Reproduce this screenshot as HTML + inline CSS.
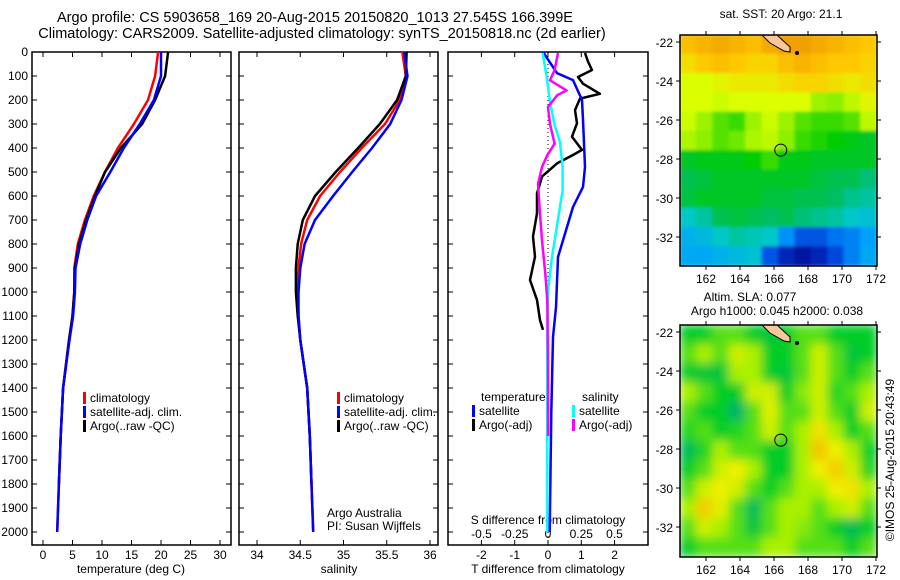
<!DOCTYPE html>
<html><head><meta charset="utf-8"><style>
body{margin:0;background:#fff;}
svg{display:block;font-family:"Liberation Sans",sans-serif;}
</style></head><body>
<svg id="fig" width="900" height="580" viewBox="0 0 900 580">
<text x="315" y="22" font-size="14.5" text-anchor="middle">Argo profile: CS 5903658_169 20-Aug-2015 20150820_1013 27.545S 166.399E</text>
<text x="322" y="38" font-size="14.5" text-anchor="middle">Climatology: CARS2009. Satellite-adjusted climatology: synTS_20150818.nc (2d earlier)</text>
<text x="131" y="573" font-size="12" text-anchor="middle">temperature (deg C)</text>
<text x="339" y="573" font-size="12" text-anchor="middle">salinity</text>
<text x="548" y="573" font-size="12" text-anchor="middle">T difference from climatology</text>
<text x="548" y="524" font-size="12" text-anchor="middle">S difference from climatology</text>
<text x="327" y="517" font-size="12">Argo Australia</text>
<text x="327" y="530" font-size="12">PI: Susan Wijffels</text>
<text x="781" y="18" font-size="12" text-anchor="middle">sat. SST: 20 Argo: 21.1</text>
<text x="750" y="301" font-size="12" text-anchor="middle">Altim. SLA: 0.077</text>
<text x="777" y="315" font-size="12" text-anchor="middle">Argo h1000: 0.045 h2000: 0.038</text>
<text x="0" y="0" font-size="12" text-anchor="middle" transform="translate(894,460) rotate(-90)">©IMOS 25-Aug-2015 20:43:49</text>
<g id="plots"></g>
</svg>
<script>
// depth levels (m)
const depths = [0,100,200,300,400,500,600,700,800,900,1000,1100,1200,1400,1600,1800,2000];
const tempClim = [19.5,19.0,17.8,15.4,12.7,10.5,8.6,7.1,5.9,5.3,5.3,5.0,4.4,3.4,3.0,2.7,2.4];
const tempSat  = [20.0,20.0,18.8,16.4,13.7,11.4,9.0,7.5,6.3,5.5,5.4,5.1,4.5,3.4,3.0,2.7,2.4];
const tempArgo = [21.2,20.7,19.0,16.8,13.2,10.5,8.8,7.3,6.1,5.4,5.3,5.0,4.4,3.4,3.0,2.7];
const salClim = [35.68,35.72,35.65,35.48,35.21,34.96,34.73,34.58,34.51,34.48,34.47,34.48,34.50,34.58,34.61,34.63,34.65];
const salSat  = [35.70,35.74,35.67,35.54,35.33,35.10,34.88,34.67,34.55,34.50,34.48,34.48,34.50,34.58,34.61,34.63,34.65];
const salArgo = [35.73,35.72,35.62,35.42,35.17,34.91,34.67,34.53,34.47,34.45,34.45,34.47,34.50,34.58,34.61,34.63];
// difference profiles
const dTSatDepth = [0,88,117,200,283,479,562,646,729,854,1063,1188,1500,2000];
const dTSat = [-0.15,0.27,0.75,1.02,1.05,1.11,1.05,0.75,0.57,0.3,0.24,0.15,0.1,0.05];
const dTArgoDepth = [4,40,75,104,132,174,194,242,297,353,408,429,464,519,589,672,769,853,950,1033,1117,1158];
const dTArgo = [1.11,1.2,1.32,0.9,1.05,1.56,0.96,0.81,0.87,0.72,1.02,0.75,0.27,-0.18,-0.33,-0.33,-0.45,-0.39,-0.54,-0.33,-0.24,-0.15];
const dSArgoDepth = [4,75,118,160,180,229,300,382,430,479,549,674,785,924,1035,1300,1600];
const dSArgo = [0.075,0.05,0.015,0.14,0.07,0,0.015,0.05,-0.005,-0.045,-0.075,-0.06,-0.045,-0.02,-0.005,0,0];
const dSSatDepth = [4,104,208,305,375,479,576,715,854,993,1200,1600,2000];
const dSSat = [-0.04,-0.01,0.015,0.05,0.09,0.11,0.11,0.07,0.03,0.0,-0.005,-0.005,-0.005];
// map data
const sstGrid = [
[21.6,21.7,21.8,21.7,21.6,21.8,21.9,21.9,21.8,21.7,21.6,21.5],
[21.3,21.5,21.6,21.5,21.4,21.4,21.6,21.7,21.6,21.5,21.5,21.4],
[21.0,21.0,21.1,21.2,21.2,21.2,21.3,21.4,21.4,21.3,21.2,21.3],
[21.0,21.0,20.9,21.0,21.0,21.0,21.0,21.0,20.6,20.5,20.8,21.1],
[20.9,20.6,20.3,20.2,20.6,20.9,20.6,20.3,20.2,20.2,20.3,20.8],
[20.7,20.5,20.3,20.4,20.7,20.8,20.5,20.2,20.1,20.0,19.9,19.8],
[19.8,19.9,19.9,19.9,20.0,20.2,19.9,19.9,19.8,19.8,19.8,19.8],
[19.6,19.7,19.8,19.8,19.8,19.8,19.8,19.8,19.7,19.6,19.6,19.4],
[19.7,19.8,19.8,19.8,19.8,19.7,19.7,19.6,19.6,19.5,19.3,19.2],
[19.0,19.2,19.6,19.7,19.6,19.5,19.6,19.4,19.3,19.2,19.0,18.9],
[18.7,18.8,19.0,19.2,19.1,19.0,18.4,18.0,18.0,18.2,18.3,18.5],
[18.6,18.6,18.7,18.8,18.9,18.0,17.6,17.4,17.6,17.9,18.3,18.6]];
const slaGrid = [
[1,1,1.5,1.5,1,0.8,1,1.5,1.5,1,1,1],
[1.5,2,1.5,2.5,2,1,1,1.5,2.5,1.5,0.8,1],
[1,0.8,0.8,2,2,1,0.8,1.5,2.5,1.5,1,1.5],
[2,1.5,1,1,2.5,2.5,1,1.8,2.5,1.2,1.5,2],
[1.5,1,1,0.3,1.5,2.8,1.5,1.5,2.5,1.5,1,2.5],
[1.2,1.5,1,1.2,1.5,2.5,1.5,2,3.2,2,1,1.5],
[0.5,1.2,2,1.5,1.5,1,1,2,3.6,3,2,1],
[1,1.5,2.5,3,2,1,1,2,3,3.5,2.5,1.2],
[1.5,2.5,3,2.5,1.5,1,1.5,2,2,3,3.2,2],
[2,3.5,2.8,1.5,0.5,1.5,2,2,1.5,2,2.5,1.5],
[1.5,2.5,2,1.5,0.8,1.5,2,1.8,1.5,1,0.5,1],
[1,1.5,1.5,1.5,1.5,2,2,1.5,1.5,1.5,1,1.5]];
const depthTicks = [0,100,200,300,400,500,600,700,800,900,1000,1100,1200,1300,1400,1500,1600,1700,1800,1900,2000];
const tempTicks = [0,5,10,15,20,25,30];
const salTicks = [34,34.5,35,35.5,36];
const salTickLabels = ["34","34.5","35","35.5","36"];
const tdTicks = [-2,-1,0,1,2];
const sdTicks = [-0.5,-0.25,0,0.25,0.5];
const sdTickLabels = ["-0.5","-0.25","0","0.25","0.5"];
const lonTicks = [162,164,166,168,170,172];
const latTicks = [-22,-24,-26,-28,-30,-32];
const argoLon = 166.399, argoLat = -27.545;

const NS="http://www.w3.org/2000/svg";
const G=document.getElementById('plots');
function mk(tag,attrs,parent){const e=document.createElementNS(NS,tag);for(const k in attrs)e.setAttribute(k,attrs[k]);(parent||G).appendChild(e);return e;}
const yD=d=>52+d*0.24;
const xT=t=>43+t*5.9;
const xS=s=>257+(s-34)*86.5;
const xDT=t=>548+t*33.3;
const xDS=s=>548+s*133;
const Y0=52,Y1=545;

function frame(x0,x1,name){
  const r=mk('rect',{x:x0,y:Y0,width:x1-x0,height:Y1-Y0,fill:'none',stroke:'#000','stroke-width':1.5});
  
  
  depthTicks.forEach(d=>{mk('line',{x1:x0,x2:x0+5,y1:yD(d),y2:yD(d),stroke:'#000'});mk('line',{x1:x1-5,x2:x1,y1:yD(d),y2:yD(d),stroke:'#000'});});
}
function line(xs,ys,color,name){
  const pts=xs.map((x,i)=>x.toFixed(1)+','+ys[i].toFixed(1)).join(' ');
  const p=mk('polyline',{points:pts,fill:'none',stroke:color,'stroke-width':2.5,'stroke-linejoin':'round'});
  
  
}
function txt(x,y,s,anchor,size){const t=mk('text',{x:x,y:y,'font-size':size||12,'text-anchor':anchor||'start'});t.textContent=s;return t;}

// Panel 1 temperature
frame(32,231,'temperature-panel');
depthTicks.forEach(d=>{const t=txt(28,yD(d)+4,String(d),'end',12);});
tempTicks.forEach(v=>{mk('line',{x1:xT(v),x2:xT(v),y1:Y1,y2:Y1-5,stroke:'#000'});mk('line',{x1:xT(v),x2:xT(v),y1:Y0,y2:Y0+5,stroke:'#000'});const t=txt(xT(v),559,String(v),'middle');});
line(tempClim.map(xT),depths.map(yD),'#ff0000','temperature-climatology-line');
line(tempArgo.map(xT),depths.slice(0,tempArgo.length).map(yD),'#000','temperature-argo-line');
line(tempSat.map(xT),depths.map(yD),'#0000ff','temperature-satellite-line');
function legend(x,y,items,prefix){items.forEach((it,i)=>{const r=mk('rect',{x:x,y:y+i*14-10,width:3,height:12,fill:it[0]});const t=txt(x+7,y+i*14,it[1]);});}
legend(83,402,[['#ff0000','climatology'],['#0000ff','satellite-adj. clim.'],['#000','Argo(..raw -QC)']],'temperature');

// Panel 2 salinity
frame(239,438,'salinity-panel');
salTicks.forEach((v,i)=>{mk('line',{x1:xS(v),x2:xS(v),y1:Y1,y2:Y1-5,stroke:'#000'});mk('line',{x1:xS(v),x2:xS(v),y1:Y0,y2:Y0+5,stroke:'#000'});const t=txt(xS(v),559,salTickLabels[i],'middle');});
line(salClim.map(xS),depths.map(yD),'#ff0000','salinity-climatology-line');
line(salArgo.map(xS),depths.slice(0,salArgo.length).map(yD),'#000','salinity-argo-line');
line(salSat.map(xS),depths.map(yD),'#0000ff','salinity-satellite-line');
legend(337,402,[['#ff0000','climatology'],['#0000ff','satellite-adj. clim.'],['#000','Argo(..raw -QC)']],'salinity');

// Panel 3 differences
frame(448,648,'difference-panel');
mk('line',{x1:548,x2:548,y1:Y0,y2:Y1,stroke:'#000','stroke-dasharray':'1,3'});
tdTicks.forEach(v=>{mk('line',{x1:xDT(v),x2:xDT(v),y1:Y1,y2:Y1-5,stroke:'#000'});mk('line',{x1:xDT(v),x2:xDT(v),y1:Y0,y2:Y0+5,stroke:'#000'});const t=txt(xDT(v),559,String(v),'middle');});
sdTicks.forEach((v,i)=>{const t=txt(xDS(v),538,sdTickLabels[i],'middle');});
line(dTArgo.map(xDT),dTArgoDepth.map(yD),'#000','t-difference-argo-line');
line(dTSat.map(xDT),dTSatDepth.map(yD),'#0000ff','t-difference-satellite-line');
line(dSSat.map(xDS),dSSatDepth.map(yD),'#00ffff','s-difference-satellite-line');
line(dSArgo.map(xDS),dSArgoDepth.map(yD),'#ff00ff','s-difference-argo-line');
{const t=txt(481,401,'temperature');
 const s=txt(582,401,'salinity');}
legend(472,415,[['#0000ff','satellite'],['#000','Argo(-adj)']],'difference-temperature');
legend(572,415,[['#00ffff','satellite'],['#ff00ff','Argo(-adj)']],'difference-salinity');

// Maps
function lerp(a,b,t){return a+(b-a)*t;}
function cmap(stops,v){if(v<=stops[0][0])return 'rgb('+stops[0][1].join(',')+')';for(let i=1;i<stops.length;i++){if(v<=stops[i][0]){const a=stops[i-1],b=stops[i];const t=(v-a[0])/(b[0]-a[0]);return 'rgb('+[0,1,2].map(k=>Math.round(lerp(a[1][k],b[1][k],t))).join(',')+')';}}const l=stops[stops.length-1][1];return 'rgb('+l.join(',')+')';}
const sstStops=[[17.4,[0,20,160]],[17.9,[0,70,220]],[18.5,[0,160,255]],[19.0,[0,200,200]],[19.5,[0,190,100]],[20.0,[0,205,0]],[20.5,[140,240,0]],[21.0,[220,255,0]],[21.5,[255,200,0]],[21.9,[240,160,0]]];
const slaStops=[[0,[0,170,130]],[1,[0,205,40]],[2,[170,240,0]],[3,[240,240,0]],[4,[245,170,0]]];
mk('defs',{}).innerHTML='<clipPath id="c1"><rect x="680" y="35" width="197" height="231"/></clipPath><clipPath id="c2"><rect x="680" y="325" width="197" height="232"/></clipPath><filter id="bl"><feGaussianBlur stdDeviation="5"/></filter><filter id="bl2"><feGaussianBlur stdDeviation="1.5"/></filter>';
function map(grid,stops,y0,y1,lat22y,clip,name,blur){
  const xL=lon=>706+(lon-162)*17;
  const yL=lat=>lat22y+(-22-lat)*19.5;
  const g=mk('g',{'clip-path':'url(#'+clip+')'});
  
  
  const gi=mk('g',{filter:'url(#'+blur+')'},g);
  const rows=grid.length,cols=grid[0].length;const w=197/cols,h=(y1-y0)/rows;
  grid.forEach((row,r)=>row.forEach((v,c)=>{const cell=mk('rect',{x:680+c*w-0.5,y:y0+r*h-0.5,width:w+1,height:h+1,fill:cmap(stops,v)},gi);}));
  const land=mk('path',{d:'M'+(762)+','+(y0)+' L777,'+y0+' L790,'+(lat22y+5)+' L790,'+(lat22y+10)+' L784,'+(lat22y+9)+' L770,'+(lat22y+1)+' Z',fill:'#f8c89a',stroke:'#000','stroke-width':1},g);
  
  
  mk('circle',{cx:797,cy:lat22y+11,r:2,fill:'#000'},g);
  const c=mk('circle',{cx:xL(argoLon),cy:yL(argoLat),r:6,fill:'none',stroke:'#000','stroke-width':1});
  
  
  const fr=mk('rect',{x:680,y:y0,width:197,height:y1-y0,fill:'none',stroke:'#000','stroke-width':1.5});
  
  
  lonTicks.forEach(l=>{mk('line',{x1:xL(l),x2:xL(l),y1:y0,y2:y0-4,stroke:'#000'});mk('line',{x1:xL(l),x2:xL(l),y1:y1,y2:y1+4,stroke:'#000'});const t=txt(xL(l),y1+17,String(l),'middle');});
  latTicks.forEach(l=>{mk('line',{x1:680,x2:676,y1:yL(l),y2:yL(l),stroke:'#000'});mk('line',{x1:877,x2:881,y1:yL(l),y2:yL(l),stroke:'#000'});const t=txt(673,yL(l)+5,String(l),'end');});
}
map(sstGrid,sstStops,35,266,42,'c1','sst-map','bl2');
map(slaGrid,slaStops,325,557,332,'c2','sla-map','bl');
</script>
</body></html>
